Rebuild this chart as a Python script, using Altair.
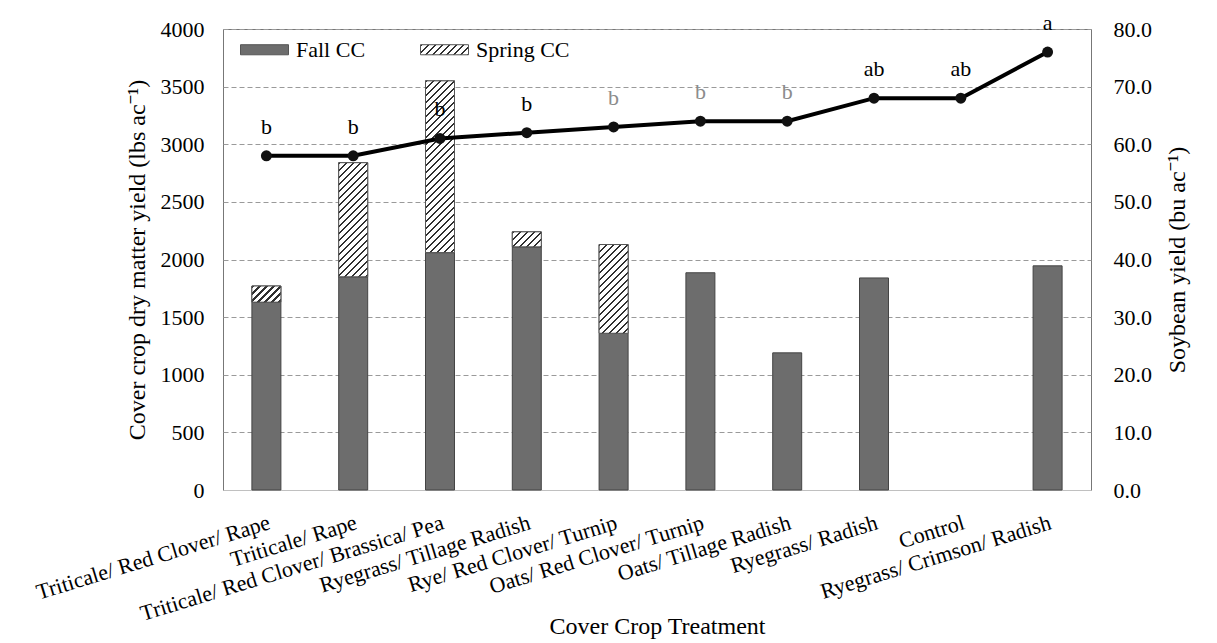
import json
import altair as alt
import pandas as pd

# ---------------- data ----------------
treatments = [
    "Triticale/ Red Clover/ Rape",
    "Triticale/ Rape",
    "Triticale/ Red Clover/ Brassica/ Pea",
    "Ryegrass/ Tillage Radish",
    "Rye/ Red Clover/ Turnip",
    "Oats/ Red Clover/ Turnip",
    "Oats/ Tillage Radish",
    "Ryegrass/ Radish",
    "Control",
    "Ryegrass/ Crimson/ Radish",
]
fall_cc = [1630, 1850, 2060, 2110, 1360, 1885, 1190, 1840, 0, 1945]
spring_cc = [140, 990, 1490, 130, 770, 0, 0, 0, 0, 0]
soybean = [58, 58, 61, 62, 63, 64, 64, 68, 68, 76]
letters = ["b", "b", "b", "b", "b", "b", "b", "ab", "ab", "a"]
faded = ["Rye/ Red Clover/ Turnip", "Oats/ Red Clover/ Turnip", "Oats/ Tillage Radish"]
series = ["Fall CC", "Spring CC"]

# ---------------- layout ----------------
W, H = 868, 461
LEFT_MAX, RIGHT_MAX = 4000, 80
P_INNER = 0.666
BAR_W = W / len(treatments) * (1 - P_INNER)
FONT = "Liberation Serif, Tinos, Noto Serif, DejaVu Serif, Times New Roman, Times, serif"


def hatch(w, h, period=7.0, lw=2.3, dark="#303030", light="#ffffff"):
    """Diagonal '////' hatch as a hard-stop linear gradient (bbox units)."""
    L = w + h
    d = w * w + h * h
    stops = []
    k = 0
    while k * period < L:
        a = k * period / L
        b = min((k * period + lw) / L, 1.0)
        c = min((k + 1) * period / L, 1.0)
        stops += [
            {"offset": round(a, 5), "color": dark},
            {"offset": round(b, 5), "color": dark},
            {"offset": round(b, 5), "color": light},
            {"offset": round(c, 5), "color": light},
        ]
        k += 1
    return {"gradient": "linear", "x1": 0, "y1": 0,
            "x2": round(w * L / d, 5), "y2": round(h * L / d, 5), "stops": stops}


rows = []
for t, f, s in zip(treatments, fall_cc, spring_cc):
    rows.append({"treatment": t, "series": "Fall CC", "lo": 0, "hi": f})
    rows.append({"treatment": t, "series": "Spring CC", "lo": f, "hi": f + s})
bars_df = pd.DataFrame(rows)
pts_df = pd.DataFrame({"treatment": treatments, "soy": soybean, "letter": letters})

x_enc = alt.X(
    "treatment:N", sort=treatments,
    scale=alt.Scale(domain=treatments, paddingInner=P_INNER, paddingOuter=P_INNER / 2),
    axis=alt.Axis(labelAngle=343, labelAlign="right", labelBaseline="top",
                  labelPadding=22, labelFontSize=22, labelLimit=0, labelOverlap=False,
                  ticks=False, domainColor="#c0c0c0", grid=False,
                  title="Cover Crop Treatment", titleFontSize=24, titleFontWeight="normal",
                  titleY=143, titleBaseline="alphabetic"),
)

y_left = alt.Y(
    "hi:Q", scale=alt.Scale(domain=[0, LEFT_MAX], nice=False),
    axis=alt.Axis(values=list(range(0, LEFT_MAX + 1, 500)), format="d", ticks=False,
                  domain=False, labelPadding=19, labelFontSize=22, grid=True,
                  gridDash=[5, 3], gridColor="#9a9a9a", gridWidth=1,
                  title="Cover crop dry matter yield (lbs ac⁻¹)", titleFontSize=24,
                  titleFontWeight="normal", titleAngle=270, titleX=-79, titleY=H / 2,
                  titleBaseline="alphabetic"),
)

y_right = alt.Y(
    "soy:Q", scale=alt.Scale(domain=[0, RIGHT_MAX], nice=False),
    axis=alt.Axis(orient="right", values=list(range(0, RIGHT_MAX + 1, 10)), format=".1f",
                  ticks=False, domain=False, grid=False, labelPadding=22, labelFontSize=22,
                  title="Soybean yield (bu ac⁻¹)", titleFontSize=24, titleFontWeight="normal",
                  titleAngle=270, titleX=93, titleY=H / 2, titleBaseline="alphabetic"),
)

legend = alt.Legend(
    title=None, orient="none", legendX=17, legendY=-4, direction="horizontal",
    symbolType="M-1,-0.21H1V0.21H-1Z", symbolSize=2304, symbolStrokeColor="#555555",
    symbolStrokeWidth=1, labelFontSize=22, labelFont=FONT, labelColor="black",
    labelOffset=7, columnPadding=52,
)

legend_hatch = {"expr": json.dumps(hatch(48, 10))}

base_bars = (
    alt.Chart(bars_df)
    .transform_filter(alt.datum.hi > alt.datum.lo)
    .mark_bar(stroke="#444444", strokeWidth=1)
    .encode(
        x=x_enc, y=y_left, y2="lo:Q",
        fill=alt.Fill("series:N", scale=alt.Scale(domain=series, range=["#6d6d6d", legend_hatch]),
                      legend=legend),
    )
)

hatch_layers = []
for t, f, s in zip(treatments, fall_cc, spring_cc):
    if s <= 0:
        continue
    h_px = s * H / LEFT_MAX
    hatch_layers.append(
        alt.Chart(bars_df)
        .transform_filter((alt.datum.treatment == t) & (alt.datum.series == "Spring CC"))
        .mark_bar(fill=hatch(BAR_W, h_px), stroke="#555555", strokeWidth=1)
        .encode(x=x_enc, y=y_left, y2="lo:Q")
    )

left = alt.layer(base_bars, *hatch_layers)

line = alt.Chart(pts_df).mark_line(color="black", strokeWidth=4).encode(x=x_enc, y=y_right)
pts = alt.Chart(pts_df).mark_circle(size=120, color="#111111", opacity=1).encode(x=x_enc, y=y_right)
txt = alt.Chart(pts_df).mark_text(dy=-22, baseline="alphabetic", fontSize=22, font=FONT).encode(
    x=x_enc, y=y_right, text="letter:N",
    color=alt.condition(alt.FieldOneOfPredicate(field="treatment", oneOf=faded),
                        alt.value("#8c8c8c"), alt.value("black")),
)
right = alt.layer(line, pts, txt)

chart = (
    alt.layer(left, right)
    .resolve_scale(y="independent")
    .properties(width=W, height=H, autosize=alt.AutoSizeParams(type="none"),
                padding={"left": 215, "top": 21, "right": 110, "bottom": 152})
    .configure(font=FONT)
    .configure_axis(labelFont=FONT, titleFont=FONT, labelColor="black", titleColor="black")
    .configure_legend(labelFont=FONT)
    .configure_text(font=FONT)
    .configure_view(stroke="#777777", strokeWidth=1)
)

chart.save("out.html", embed_options={"renderer": "svg", "actions": False})
